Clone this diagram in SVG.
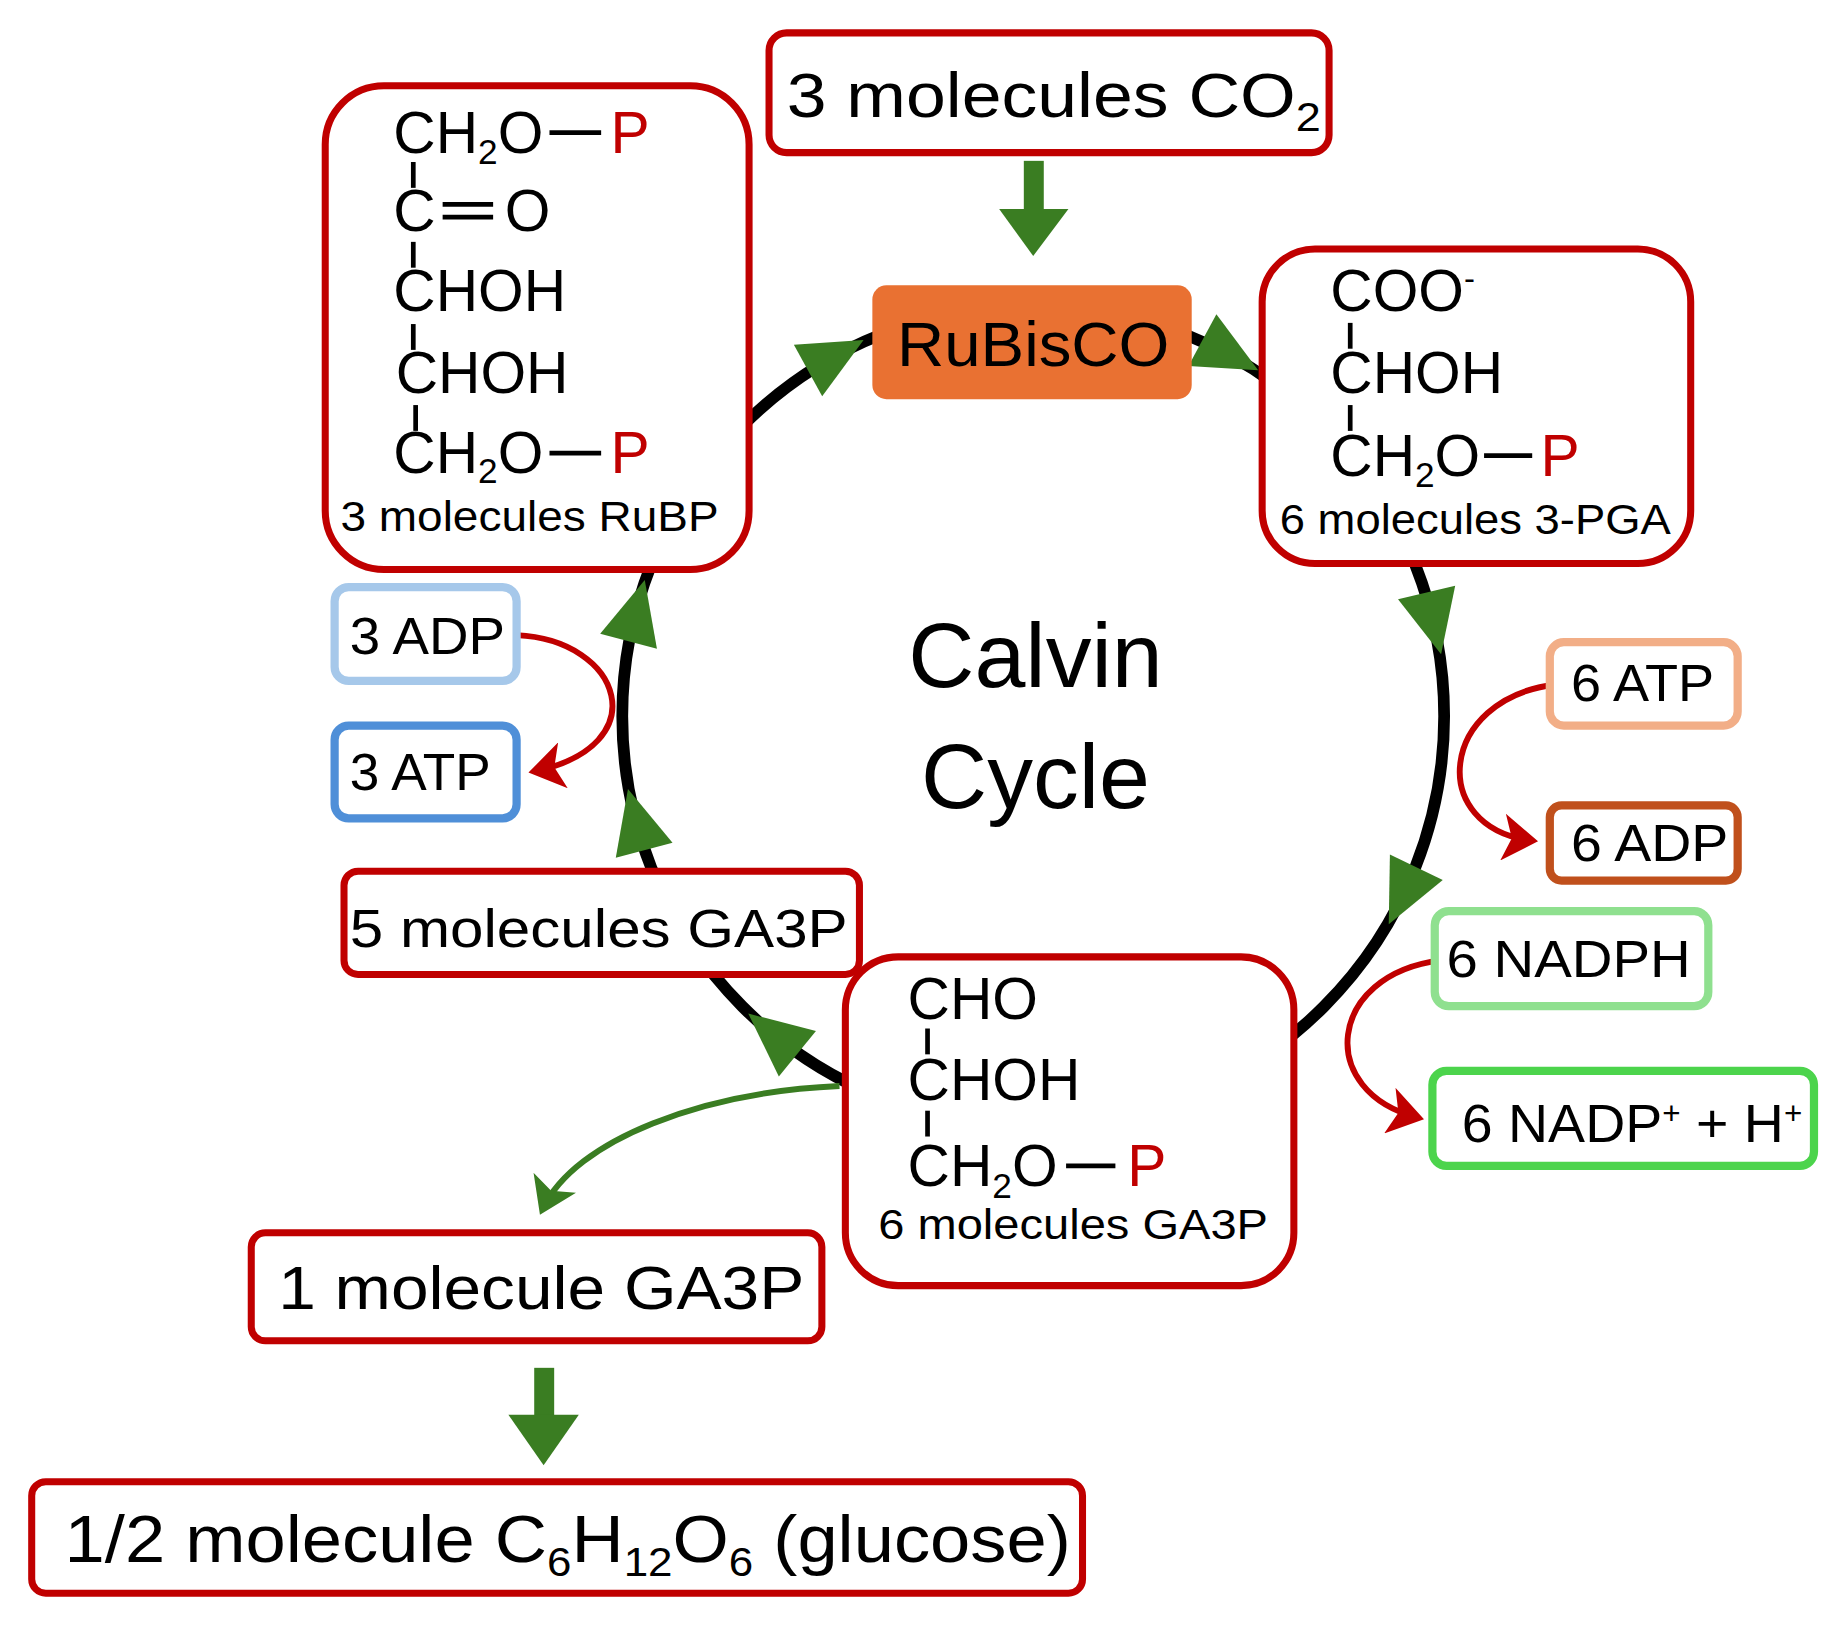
<svg xmlns="http://www.w3.org/2000/svg" width="1841" height="1625" viewBox="0 0 1841 1625">
<style>
.box{fill:#fff;stroke:#C00000;stroke-width:6}
.t{font-family:"Liberation Sans",Arial,sans-serif;fill:#000}
.c{font-size:50px}
.p{fill:#C00000}
.bond{stroke:#000;stroke-width:4}
.red{fill:none;stroke:#C00000;stroke-width:5}
.grn{fill:none;stroke:#3A7D22;stroke-width:5}
</style>
<defs>
<polygon id="ah" points="28,0 -26,-25 -26,25" fill="#3A7D22"/>
<marker id="mr" markerWidth="8" markerHeight="8" refX="5" refY="4" orient="auto" markerUnits="strokeWidth"><path d="M0,0 L6,4 L0,8 L1.5,4 z" fill="#C00000"/></marker>
<marker id="mg" markerWidth="8" markerHeight="8" refX="5" refY="4" orient="auto" markerUnits="strokeWidth"><path d="M0,0 L6,4 L0,8 L1.5,4 z" fill="#3A7D22"/></marker>
</defs>
<rect width="1841" height="1625" fill="#fff"/>
<g transform="scale(1.1741)">
<g id="connectors">
<circle cx="880" cy="610" r="350" fill="none" stroke="#000" stroke-width="10"/>
<use href="#ah" transform="translate(711,303) rotate(-28.8)"/>
<use href="#ah" transform="translate(1047,302) rotate(28.4)"/>
<use href="#ah" transform="translate(1221,530) rotate(76.8)"/>
<use href="#ah" transform="translate(1195,762) rotate(115.8)"/>
<use href="#ah" transform="translate(659,881) rotate(219.2)"/>
<use href="#ah" transform="translate(542,699) rotate(255.2)"/>
<use href="#ah" transform="translate(542,521) rotate(284.8)"/>
<rect x="872" y="137" width="17" height="44" fill="#3A7D22"/>
<polygon points="851,178 910,178 880,218" fill="#3A7D22"/>
<rect x="455" y="1165" width="17" height="42" fill="#3A7D22"/>
<polygon points="433,1205 493,1205 463,1248" fill="#3A7D22"/>
<path class="red" d="M440,541 C530,545 560,635 455,657" marker-end="url(#mr)"/>
<path class="red" d="M1325,583 C1225,595 1215,705 1305,716" marker-end="url(#mr)"/>
<path class="red" d="M1227,818 C1130,830 1120,930 1208,952" marker-end="url(#mr)"/>
<path class="grn" d="M715,925 C600,930 490,970 462,1030" marker-end="url(#mg)"/>
</g>
<g id="co2"><rect class="box" x="655" y="28" width="477" height="102" rx="15"/>
<text class="t" x="670" y="100" font-size="54" textLength="455" lengthAdjust="spacingAndGlyphs">3 molecules CO<tspan font-size="34" dy="12">2</tspan></text></g>
<g id="rubisco"><rect x="743" y="243" width="272" height="97" rx="12" fill="#E97132"/>
<text class="t" x="880" y="312" font-size="54" text-anchor="middle" textLength="232" lengthAdjust="spacingAndGlyphs">RuBisCO</text></g>
<g id="rubp"><rect class="box" x="277" y="73" width="361" height="412" rx="50"/>
<text class="t c" x="335" y="130">CH<tspan font-size="30" dy="10">2</tspan><tspan dy="-10">O</tspan></text>
<line class="bond" x1="468" y1="113" x2="512" y2="113" stroke-width="5"/><text class="t p c" x="520" y="130">P</text>
<line class="bond" x1="352" y1="138" x2="352" y2="160"/>
<text class="t c" x="335" y="197">C</text>
<line class="bond" x1="377" y1="174" x2="420" y2="174"/><line class="bond" x1="377" y1="185" x2="420" y2="185"/>
<text class="t c" x="430" y="197">O</text>
<line class="bond" x1="352" y1="206" x2="352" y2="228"/>
<text class="t c" x="335" y="265">CHOH</text>
<line class="bond" x1="352" y1="276" x2="352" y2="298"/>
<text class="t c" x="337" y="335">CHOH</text>
<line class="bond" x1="354" y1="345" x2="354" y2="367"/>
<text class="t c" x="335" y="403">CH<tspan font-size="30" dy="8">2</tspan><tspan dy="-8">O</tspan></text>
<line class="bond" x1="468" y1="386" x2="512" y2="386" stroke-width="5"/><text class="t p c" x="520" y="403">P</text>
<text class="t" x="290" y="452" font-size="36" textLength="322" lengthAdjust="spacingAndGlyphs">3 molecules RuBP</text></g>
<g id="pga"><rect class="box" x="1075" y="212" width="365" height="268" rx="45"/>
<text class="t c" x="1133" y="265">COO<tspan font-size="28" dy="-18">-</tspan></text>
<line class="bond" x1="1150" y1="275" x2="1150" y2="297"/>
<text class="t c" x="1133" y="335">CHOH</text>
<line class="bond" x1="1150" y1="345" x2="1150" y2="367"/>
<text class="t c" x="1133" y="405">CH<tspan font-size="30" dy="10">2</tspan><tspan dy="-10">O</tspan></text>
<line class="bond" x1="1264" y1="388" x2="1305" y2="388" stroke-width="5"/><text class="t p c" x="1312" y="405">P</text>
<text class="t" x="1090" y="455" font-size="36" textLength="333" lengthAdjust="spacingAndGlyphs">6 molecules 3-PGA</text></g>
<g id="ga3p6"><rect class="box" x="720" y="815" width="382" height="280" rx="45"/>
<text class="t c" x="773" y="868">CHO</text>
<line class="bond" x1="790" y1="876" x2="790" y2="898"/>
<text class="t c" x="773" y="937">CHOH</text>
<line class="bond" x1="790" y1="946" x2="790" y2="968"/>
<text class="t c" x="773" y="1010">CH<tspan font-size="30" dy="10">2</tspan><tspan dy="-10">O</tspan></text>
<line class="bond" x1="908" y1="993" x2="950" y2="993" stroke-width="5"/><text class="t p c" x="960" y="1010">P</text>
<text class="t" x="748" y="1055" font-size="36" textLength="332" lengthAdjust="spacingAndGlyphs">6 molecules GA3P</text></g>
<g id="adp3"><rect x="285" y="500" width="155" height="80" rx="12" fill="#fff" stroke="#A6C8EA" stroke-width="7"/><text class="t" x="298" y="557" font-size="44" textLength="132" lengthAdjust="spacingAndGlyphs">3 ADP</text></g>
<g id="atp3"><rect x="285" y="618" width="155" height="79" rx="12" fill="#fff" stroke="#4F8FD8" stroke-width="7"/><text class="t" x="298" y="673" font-size="44" textLength="120" lengthAdjust="spacingAndGlyphs">3 ATP</text></g>
<g id="atp6"><rect x="1320" y="547" width="160" height="71" rx="12" fill="#fff" stroke="#F2AE87" stroke-width="7"/><text class="t" x="1338" y="597" font-size="44" textLength="122" lengthAdjust="spacingAndGlyphs">6 ATP</text></g>
<g id="adp6"><rect x="1320" y="686" width="160" height="64" rx="10" fill="#fff" stroke="#C0501C" stroke-width="7"/><text class="t" x="1338" y="733" font-size="44" textLength="134" lengthAdjust="spacingAndGlyphs">6 ADP</text></g>
<g id="nadph"><rect x="1222" y="776" width="233" height="81" rx="12" fill="#fff" stroke="#8FE08F" stroke-width="7"/><text class="t" x="1232" y="832" font-size="44" textLength="208" lengthAdjust="spacingAndGlyphs">6 NADPH</text></g>
<g id="nadp"><rect x="1220" y="912" width="325" height="81" rx="12" fill="#fff" stroke="#4CD44C" stroke-width="7"/><text class="t" x="1245" y="973" font-size="46" textLength="290" lengthAdjust="spacingAndGlyphs">6 NADP<tspan font-size="26" dy="-16">+</tspan><tspan dy="16"> + H</tspan><tspan font-size="26" dy="-16">+</tspan></text></g>
<g id="ga3p5"><rect class="box" x="293" y="742" width="439" height="88" rx="12"/><text class="t" x="298" y="807" font-size="46" textLength="424" lengthAdjust="spacingAndGlyphs">5 molecules GA3P</text></g>
<g id="ga3p1"><rect class="box" x="214" y="1050" width="486" height="92" rx="12"/><text class="t" x="237" y="1115" font-size="52" textLength="448" lengthAdjust="spacingAndGlyphs">1 molecule GA3P</text></g>
<g id="glucose"><rect class="box" x="27" y="1262" width="895" height="95" rx="12"/><text class="t" x="55" y="1330" font-size="56" textLength="857" lengthAdjust="spacingAndGlyphs">1/2 molecule C<tspan font-size="34" dy="12">6</tspan><tspan dy="-12">H</tspan><tspan font-size="34" dy="12">12</tspan><tspan dy="-12">O</tspan><tspan font-size="34" dy="12">6</tspan><tspan dy="-12"> (glucose)</tspan></text></g>
<g id="title"><text class="t" x="882" y="585" font-size="78" text-anchor="middle">Calvin</text><text class="t" x="882" y="688" font-size="78" text-anchor="middle">Cycle</text></g>
</g>
</svg>
